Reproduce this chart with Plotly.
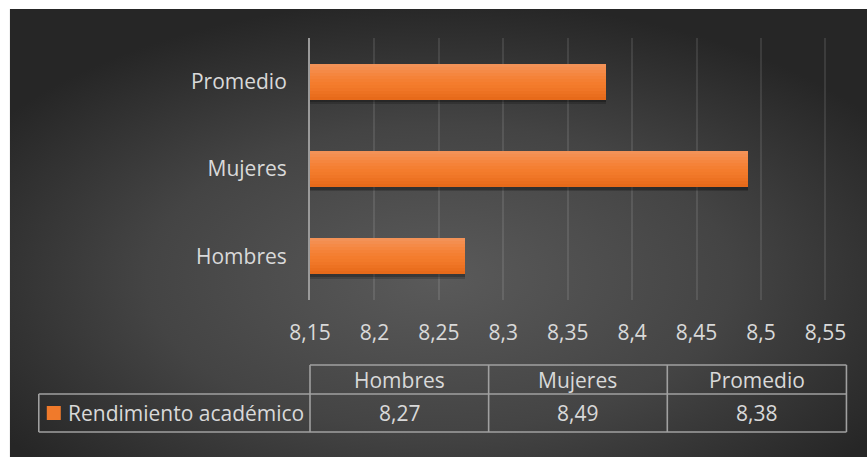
import base64
import plotly.graph_objects as go

# ---- data -------------------------------------------------------------
categories = ["Hombres", "Mujeres", "Promedio"]
values = [8.27, 8.49, 8.38]
series_name = "Rendimiento académico"
tick_values = [8.15, 8.2, 8.25, 8.3, 8.35, 8.4, 8.45, 8.5, 8.55]
tick_labels = ["8,15", "8,2", "8,25", "8,3", "8,35", "8,4", "8,45", "8,5", "8,55"]

# ---- geometry (pixels) ------------------------------------------------
W, H = 867, 457
X_MIN, X_MAX = 8.15, 8.552          # a hair past 8.55 so its gridline is drawn
PX_PER_UNIT = (825 - 310) / 0.40
PLOT_L, PLOT_T, PLOT_B = 310, 38, 300
PLOT_R = PLOT_L + (X_MAX - X_MIN) * PX_PER_UNIT
TEXT = "#d9d9d9"
FONT = "Open Sans"
FS = 21
LINE = "#a0a0a0"


def px_x(x):
    return (x - PLOT_L) / (PLOT_R - PLOT_L)


def px_y(y):
    return (PLOT_B - y) / (PLOT_B - PLOT_T)


# dark radial background panel
svg = f"""<svg xmlns='http://www.w3.org/2000/svg' width='857' height='448'>
<defs><radialGradient id='g' cx='0.5' cy='0.6' r='0.62'>
<stop offset='0' stop-color='#5a5a5a'/>
<stop offset='0.55' stop-color='#444444'/>
<stop offset='1' stop-color='#262626'/>
</radialGradient></defs>
<rect width='857' height='448' fill='url(#g)'/></svg>"""
bg_src = "data:image/svg+xml;base64," + base64.b64encode(svg.encode()).decode()

fig = go.Figure()

BAR_W = 0.41
BAR_OFF = -BAR_W / 2

# soft shadow under bars
for dy, a in [(0.05, 0.18), (0.03, 0.22)]:
    fig.add_trace(go.Bar(
        x=values, y=categories, orientation="h",
        width=BAR_W, offset=BAR_OFF - dy,
        marker=dict(color=f"rgba(0,0,0,{a})", line=dict(width=0)),
        hoverinfo="skip", showlegend=False,
    ))

# bars as stacked horizontal colour bands (light top, darker bottom)
band_colors = ["#f39257", "#f48e4f", "#f58a47", "#f5863f", "#f58238", "#f47f32",
               "#f47c2d", "#f27a2a", "#f07627", "#ed7222", "#ea6e1e", "#e76a1a"]
n = len(band_colors)
bw = BAR_W / n
for i, c in enumerate(band_colors):
    fig.add_trace(go.Bar(
        x=values, y=categories, orientation="h",
        width=bw * 1.02, offset=BAR_OFF + BAR_W - (i + 1) * bw,
        marker=dict(color=c, line=dict(width=0)),
        name=series_name,
        hovertemplate="%{y}: %{x}<extra></extra>", showlegend=False,
    ))

shapes = []


# data table lines
def seg(x0, y0, x1, y1):
    shapes.append(dict(type="line", xref="paper", yref="paper",
                       x0=px_x(x0), y0=px_y(y0), x1=px_x(x1), y1=px_y(y1),
                       line=dict(color=LINE, width=1.6)))


col_edges = [310, 488.5, 667, 846]
TAB_L, ROW0, ROW1, ROW2 = 39, 365, 394, 432
seg(col_edges[0], ROW0, col_edges[-1], ROW0)
seg(TAB_L, ROW1, col_edges[-1], ROW1)
seg(TAB_L, ROW2, col_edges[-1], ROW2)
seg(TAB_L, ROW1, TAB_L, ROW2)
for xe in col_edges:
    seg(xe, ROW0, xe, ROW2)

# legend swatch inside the table
shapes.append(dict(type="rect", xref="paper", yref="paper",
                   x0=px_x(47), x1=px_x(61), y0=px_y(420), y1=px_y(406),
                   fillcolor="#f07a2b", line=dict(width=0)))

annotations = []
for i, cat in enumerate(categories):
    xc = (col_edges[i] + col_edges[i + 1]) / 2
    annotations.append(dict(xref="paper", yref="paper", x=px_x(xc), y=px_y((ROW0 + ROW1) / 2),
                            text=cat, showarrow=False, xanchor="center", yanchor="middle",
                            font=dict(family=FONT, size=FS, color=TEXT)))
    annotations.append(dict(xref="paper", yref="paper", x=px_x(xc), y=px_y((ROW1 + ROW2) / 2),
                            text=f"{values[i]:.2f}".replace(".", ","), showarrow=False,
                            xanchor="center", yanchor="middle",
                            font=dict(family=FONT, size=FS, color=TEXT)))
annotations.append(dict(xref="paper", yref="paper", x=px_x(66), y=px_y((ROW1 + ROW2) / 2),
                        text=series_name, showarrow=False, xanchor="left", yanchor="middle",
                        font=dict(family=FONT, size=FS, color=TEXT)))

fig.update_layout(
    width=W, height=H,
    margin=dict(l=PLOT_L, r=W - PLOT_R, t=PLOT_T, b=H - PLOT_B, pad=0),
    paper_bgcolor="white", plot_bgcolor="rgba(0,0,0,0)",
    barmode="overlay", bargap=0,
    showlegend=False,
    font=dict(family=FONT, size=FS, color=TEXT),
    images=[dict(source=bg_src, xref="paper", yref="paper",
                 x=px_x(10), y=px_y(9), sizex=(W - 10) / (PLOT_R - PLOT_L),
                 sizey=(H - 9) / (PLOT_B - PLOT_T), xanchor="left", yanchor="top",
                 sizing="stretch", layer="below")],
    shapes=shapes, annotations=annotations,
    xaxis=dict(range=[X_MIN, X_MAX], tickvals=tick_values, ticktext=tick_labels,
               showgrid=True, gridcolor="rgba(255,255,255,0.1)", gridwidth=2,
               zeroline=False, showline=False, ticks="", ticklabelstandoff=18,
               tickfont=dict(family=FONT, size=FS, color=TEXT), fixedrange=True),
    yaxis=dict(type="category", categoryorder="array", categoryarray=categories,
               range=[-0.5, 2.5], showgrid=False, zeroline=False,
               showline=True, linecolor="#9a9a9a", linewidth=2,
               ticks="", ticklabelstandoff=17,
               tickfont=dict(family=FONT, size=FS, color=TEXT), fixedrange=True),
)

fig.write_html("out.html")
